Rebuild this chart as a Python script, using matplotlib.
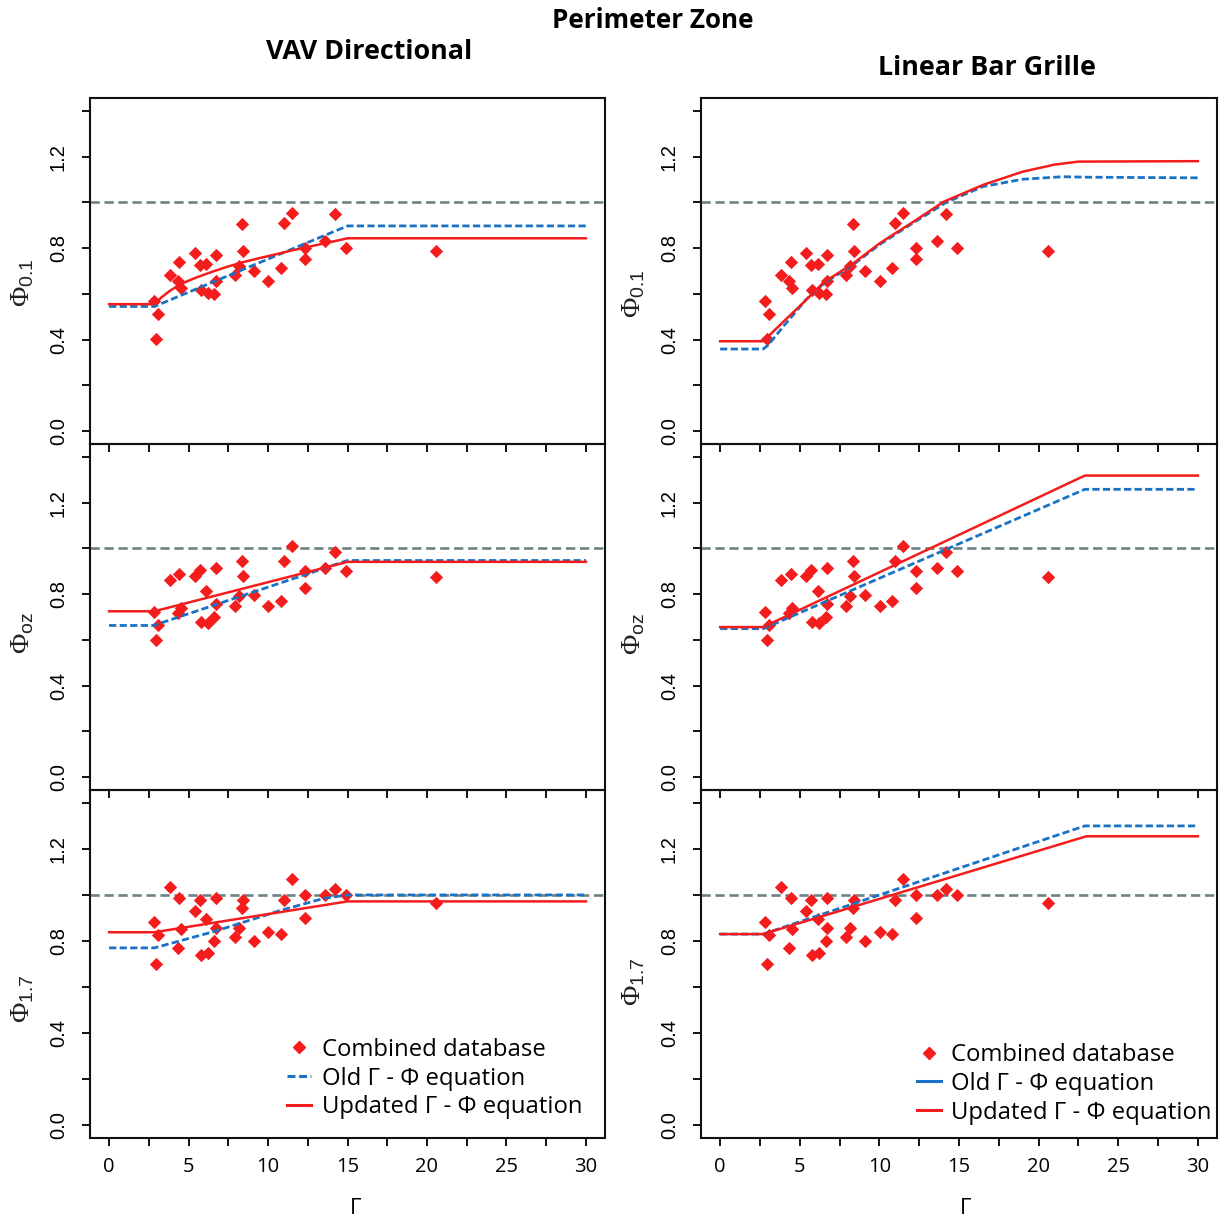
import matplotlib

matplotlib.use("Agg")

import matplotlib.pyplot as plt
from matplotlib.lines import Line2D

plt.rcParams["mathtext.fontset"] = "custom"
plt.rcParams["mathtext.rm"] = "Liberation Serif"
plt.rcParams["mathtext.sf"] = "Liberation Sans"

# combined database (same points in every column)
gamma_pts = [2.82, 2.96, 3.05, 3.82, 4.32, 4.42, 4.53, 5.40, 5.70, 5.80,
             6.12, 6.22, 6.62, 6.72, 6.72, 7.93, 8.18, 8.35, 8.41, 9.10,
             10.02, 10.79, 11.00, 11.48, 12.31, 12.31, 13.61, 14.19, 14.90, 20.56]
phi01_pts = [0.567, 0.401, 0.513, 0.683, 0.658, 0.738, 0.627, 0.780, 0.726, 0.617,
             0.729, 0.603, 0.601, 0.770, 0.655, 0.683, 0.723, 0.907, 0.787, 0.700,
             0.657, 0.712, 0.910, 0.955, 0.801, 0.752, 0.832, 0.948, 0.799, 0.787]
phioz_pts = [0.722, 0.598, 0.666, 0.863, 0.717, 0.889, 0.739, 0.880, 0.906, 0.676,
             0.815, 0.674, 0.700, 0.914, 0.757, 0.749, 0.790, 0.945, 0.881, 0.797,
             0.749, 0.771, 0.945, 1.011, 0.902, 0.826, 0.914, 0.986, 0.899, 0.876]
phi17_pts = [0.884, 0.699, 0.825, 1.034, 0.771, 0.985, 0.854, 0.932, 0.976, 0.737,
             0.894, 0.746, 0.800, 0.985, 0.855, 0.817, 0.855, 0.942, 0.980, 0.800,
             0.841, 0.832, 0.979, 1.069, 0.999, 0.902, 0.999, 1.028, 0.999, 0.964]

# VAV Directional curves
vav_new01_g = [0, 2.85, 3.3, 3.8, 4.5, 5.5, 6.5, 7.5, 8.5, 9.5, 10.5, 11.5, 12.5, 13.5, 14.5, 15, 30]
vav_new01 = [0.555, 0.555, 0.585, 0.612, 0.643, 0.672, 0.697, 0.720, 0.740, 0.757,
             0.773, 0.790, 0.805, 0.820, 0.835, 0.843, 0.843]
vav_old01_g = [0, 2.85, 15, 30]
vav_old01 = [0.545, 0.545, 0.897, 0.897]
vav_newoz_g = [0, 2.85, 15, 30]
vav_newoz = [0.725, 0.725, 0.941, 0.941]
vav_oldoz_g = [0, 2.8, 15, 30]
vav_oldoz = [0.663, 0.663, 0.947, 0.947]
vav_new17_g = [0, 2.85, 15, 30]
vav_new17 = [0.838, 0.838, 0.972, 0.972]
vav_old17_g = [0, 2.85, 6.7, 10.7, 13.5, 15, 30]
vav_old17 = [0.770, 0.770, 0.843, 0.931, 0.985, 1.0, 1.0]

# Linear Bar Grille curves
lbg_new01_g = [0, 2.7, 4, 5.2, 6.5, 8.4, 10, 10.84, 12, 14.05, 16.5, 19, 21, 22.5, 30]
lbg_new01 = [0.393, 0.393, 0.480, 0.560, 0.650, 0.735, 0.820, 0.858, 0.909, 1.003,
             1.076, 1.134, 1.165, 1.178, 1.180]
lbg_old01_g = [0, 2.7, 3.0, 4, 5.4, 6.5, 8.4, 10, 12, 14.2, 16.5, 19, 21.5, 23, 30]
lbg_old01 = [0.359, 0.359, 0.375, 0.460, 0.575, 0.645, 0.730, 0.815, 0.905, 1.0,
             1.069, 1.101, 1.112, 1.110, 1.107]
lbg_newoz_g = [0, 2.7, 22.9, 30]
lbg_newoz = [0.656, 0.656, 1.318, 1.318]
lbg_oldoz_g = [0, 2.7, 22.9, 30]
lbg_oldoz = [0.649, 0.649, 1.258, 1.258]
lbg_new17_g = [0, 2.7, 23.0, 30]
lbg_new17 = [0.830, 0.830, 1.255, 1.255]
lbg_old17_g = [0, 2.7, 22.9, 30]
lbg_old17 = [0.830, 0.830, 1.300, 1.300]

ylabels = [r"$\Phi_{\mathsf{0.1}}$", r"$\Phi_{\mathsf{oz}}$", r"$\Phi_{\mathsf{1.7}}$"]
legend_labels = ["Combined database", "Old \u0393 - \u03a6 equation",
                 "Updated \u0393 - \u03a6 equation"]

RED = "#f41c1c"
BLUE = "#1a72c4"
GRAY = "#6e8282"
TXT = "Open Sans"

fig = plt.figure(figsize=(12.25, 12.21), dpi=100)

col_left = [90 / 1225, 701 / 1225]
col_width = [515 / 1225, 516 / 1225]
row_bottom = [1 - 444 / 1221, 1 - 790 / 1221, 1 - 1138 / 1221]
row_height = [346 / 1221, 346 / 1221, 348 / 1221]

panels = [
    [(phi01_pts, vav_old01_g, vav_old01, vav_new01_g, vav_new01),
     (phioz_pts, vav_oldoz_g, vav_oldoz, vav_newoz_g, vav_newoz),
     (phi17_pts, vav_old17_g, vav_old17, vav_new17_g, vav_new17)],
    [(phi01_pts, lbg_old01_g, lbg_old01, lbg_new01_g, lbg_new01),
     (phioz_pts, lbg_oldoz_g, lbg_oldoz, lbg_newoz_g, lbg_newoz),
     (phi17_pts, lbg_old17_g, lbg_old17, lbg_new17_g, lbg_new17)],
]
label_pos = [[0.465, 0.455, 0.40], [0.434, 0.451, 0.45]]

for c in range(2):
    for r in range(3):
        pts, old_g, old_v, new_g, new_v = panels[c][r]
        ax = fig.add_axes([col_left[c], row_bottom[r], col_width[c], row_height[r]])
        ax.set_facecolor("none")
        ax.axhline(1.0, color=GRAY, lw=1.9, ls=(0, (3.5, 1.8)), zorder=1)
        ax.scatter(gamma_pts, pts, marker="D", s=46, color=RED, linewidths=0, zorder=3)
        ax.plot(old_g, old_v, color=BLUE, lw=2.0, ls=(0, (2.6, 1.2)), zorder=4)
        ax.plot(new_g, new_v, color=RED, lw=1.8, zorder=5)

        ax.set_xlim(-1.2, 31.2)
        ax.set_ylim(-0.056, 1.456)
        ax.set_xticks([i * 2.5 for i in range(13)])
        ax.set_xticklabels(["0", "", "5", "", "10", "", "15", "", "20", "", "25", "", "30"],
                           family=TXT, fontsize=14.5)
        ax.set_yticks([i * 0.2 for i in range(8)])
        ax.set_yticklabels(["0.0", "", "0.4", "", "0.8", "", "1.2", ""],
                           family="Liberation Sans", fontsize=14.5, rotation=90, va="center")
        ax.tick_params(direction="out", length=6, width=1.4, color="#111111")
        ax.tick_params(axis="y", pad=10)
        ax.tick_params(axis="x", pad=8, labelbottom=(r == 2))
        for sp in ax.spines.values():
            sp.set_linewidth(1.5)
            sp.set_color("#111111")
        ax.set_ylabel(ylabels[r], fontsize=20, color="#222222")
        ax.yaxis.set_label_coords(-0.104, label_pos[c][r])

        if r == 2:
            handles = [
                Line2D([], [], marker="D", color=RED, ls="none", markersize=6.5),
                Line2D([], [], color=BLUE, lw=2.2,
                       ls=(0, (2.6, 1.2)) if c == 0 else "-"),
                Line2D([], [], color=RED, lw=2.2),
            ]
            anchor = (0.383, 0.288) if c == 0 else (0.418, 0.273)
            ax.legend(handles, legend_labels, loc="upper left", bbox_to_anchor=anchor,
                      frameon=False, prop={"family": TXT, "size": 17.2},
                      handlelength=1.0, handletextpad=0.45, labelspacing=0.2,
                      borderpad=0, borderaxespad=0)

fig.text(653 / 1225, 1 - 20 / 1221, "Perimeter Zone", family=TXT, weight="bold",
         fontsize=18.7, ha="center", va="center")
fig.text(369 / 1225, 1 - 52 / 1221, "VAV Directional", family=TXT, weight="bold",
         fontsize=19.4, ha="center", va="center")
fig.text(987 / 1225, 1 - 68 / 1221, "Linear Bar Grille", family=TXT, weight="bold",
         fontsize=19.4, ha="center", va="center")
fig.text(356 / 1225, 1 - 1219 / 1221, "\u0393", family=TXT, fontsize=16,
         ha="center", va="bottom")
fig.text(966 / 1225, 1 - 1219 / 1221, "\u0393", family=TXT, fontsize=16,
         ha="center", va="bottom")

fig.savefig("out.png", dpi=100)
